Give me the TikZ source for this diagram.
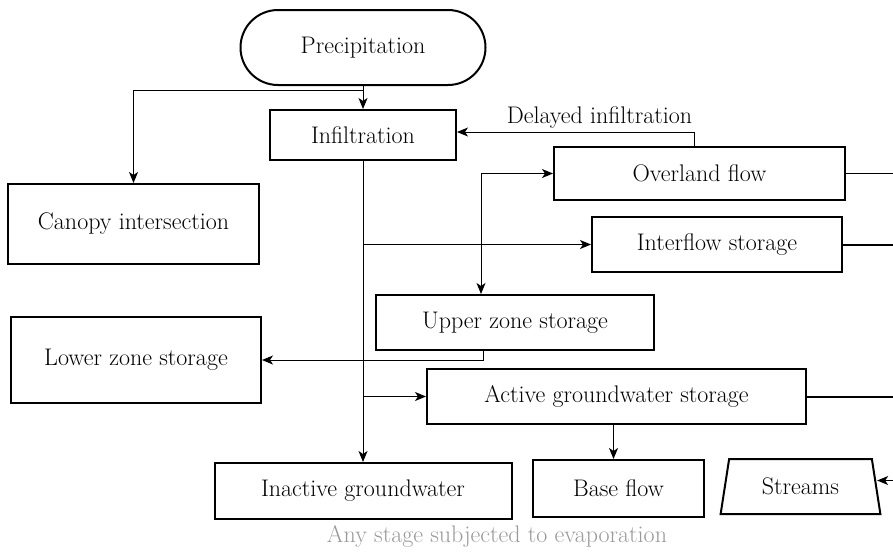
\documentclass[tikz,border=0pt]{standalone}
\usepackage{fontspec}
\usepackage{tikz}
\usetikzlibrary{arrows.meta,shapes.geometric,shapes.misc}

\begin{document}
\begin{tikzpicture}[x=1pt,y=-1pt,font=\fontsize{24}{28}\selectfont,box/.style n args={2}{draw,rectangle,line width=2pt,minimum width=#1,minimum height=#2,inner sep=0pt},link/.style={line width=1pt,-{Stealth[length=11pt,width=9pt,inset=3pt]}},wire/.style={line width=#1}]
\useasboundingbox (0,0) rectangle (893,558);
\node[rounded rectangle,draw,line width=2pt,minimum width=245,minimum height=75,inner sep=0pt] (prec) at (363,47.5) {Precipitation};
\node[box={186}{50}] (infil) at (363,135) {Infiltration};
\node[box={251}{80}] (canopy) at (133.5,224) {Canopy intersection};
\node[box={291}{53}] (over) at (699.5,173.5) {Overland flow};
\node[box={250}{55}] (inter) at (717,244.5) {Interflow storage};
\node[box={278}{55}] (upper) at (515,322.5) {Upper zone storage};
\node[box={250}{86}] (lower) at (136,360) {Lower zone storage};
\node[box={379}{55}] (active) at (616.5,396.5) {Active groundwater storage};
\node[box={297}{56}] (inactive) at (363,491) {Inactive groundwater};
\node[box={171}{57}] (base) at (618.5,488.5) {Base flow};
\node[trapezium,draw,line width=2pt,trapezium left angle=75,trapezium right angle=75,trapezium stretches=true,minimum width=161,minimum height=55,inner sep=0pt] (streams) at (800.5,486.5) {Streams};
\node[text=gray!80] (note) at (497,536) {Any stage subjected to evaporation};
\coordinate (split) at (363,90);
\coordinate (edge) at (893,0);
\draw[link] (prec.south) -- (infil.north);
\draw[link] (split) -| (canopy.north);
\draw[link] ([xshift=-5pt]over.north) |- ([yshift=3pt]infil.east) node[above,pos=0.7]{Delayed infiltration};
\draw[link] (infil.south) -- (inactive.north);
\draw[link] (infil.south |- inter.west) -- (inter.west);
\draw[link] (infil.south |- active.west) -- (active.west);
\draw[line width=1pt,{Stealth[length=11pt,width=9pt,inset=3pt]}-{Stealth[length=11pt,width=9pt,inset=3pt]}] (over.west) -| ([xshift=-34pt]upper.north);
\draw[link] ([xshift=-32pt]upper.south) |- (lower.east);
\draw[link] ([xshift=-3pt]active.south) -- ([xshift=-3pt]active.south |- base.north);
\foreach \n/\w in {over/1pt,inter/2pt,active/2pt} {
   \draw[wire=\w] (\n.east) -- (\n.east -| edge);
}
\draw[link] ([yshift=6pt]streams.east -| edge) -- ([yshift=6pt]streams.east);
\end{tikzpicture}
\end{document}
